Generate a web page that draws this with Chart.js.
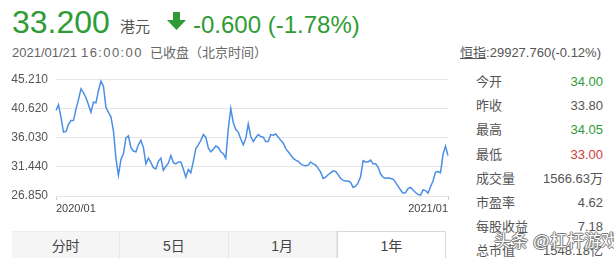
<!DOCTYPE html>
<html>
<head>
<meta charset="utf-8">
<script src="https://cdn.jsdelivr.net/npm/chart.js@4/dist/chart.umd.min.js"></script>
<style>
  html, body { margin: 0; padding: 0; background: #fff; }
  body { width: 614px; height: 258px; position: relative; overflow: hidden;
         font-family: "Liberation Sans", Arial, "Noto Sans CJK SC", sans-serif; color: #555; }
  .abs { position: absolute; white-space: nowrap; }
  .up { color: #2f9b34; }
  .down { color: #cc3d3d; }
  #price { left: 12px; top: 4px; font-size: 32px; line-height: 37px; color: #2f9b34; }
  #unit { left: 120px; top: 18px; font-size: 15px; line-height: 17px; color: #555; }
  #arrow { left: 167px; top: 12px; }
  #change { left: 193px; top: 11px; font-size: 24px; line-height: 27px; color: #2f9b34; }
  #date { left: 12px; top: 45px; font-size: 13px; line-height: 15px; color: #666; }
  #clock { left: 81px; top: 45px; font-size: 13px; line-height: 15px; color: #666; letter-spacing: 1.4px; }
  #closed { left: 150px; top: 45px; font-size: 13px; line-height: 15px; color: #666; }
  #hsi { right: 13px; top: 45px; font-size: 13px; line-height: 15px; color: #555; }
  #hsi u { text-decoration: underline; }
  #stats { left: 476px; top: 70px; width: 127px; }
  .row { display: flex; justify-content: space-between; height: 24.2px; line-height: 24px; font-size: 13px; }
  #tabs { left: 12px; top: 231px; width: 434px; height: 32px; background: #f5f5f5;
          display: flex; border-top: 1px solid #ececec; }
  .tab { flex: 1; text-align: center; font-size: 14px; line-height: 28px; color: #444;
         border-right: 1px solid #e6e6e6; }
  .tab.sel { background: #fff; border: 1px solid #d9d9d9; border-bottom: none; margin-top: -1px; }
  #mark { left: 494px; top: 232px; font-size: 17px; line-height: 20px; color: #fff;
          text-shadow: 1px 0 0 #777, -1px 0 0 #777, 0 1px 0 #777, 0 -1px 0 #777; }
  #chart { position: absolute; left: 0; top: 64px; }
</style>
</head>
<body>
<div class="abs" id="price">33.200</div>
<div class="abs" id="unit">港元</div>
<svg class="abs" id="arrow" width="19" height="18" viewBox="0 0 19 18">
  <polygon points="6,0 13,0 13,8 19,8 9.5,18 0,8 6,8" fill="#2f9b34"/>
</svg>
<div class="abs" id="change">-0.600 (-1.78%)</div>
<div class="abs" id="date">2021/01/21</div>
<div class="abs" id="clock">16:00:00</div>
<div class="abs" id="closed">已收盘（北京时间）</div>
<div class="abs" id="hsi"><u>恒指</u>:29927.760(-0.12%)</div>

<canvas id="chart" width="456" height="158"></canvas>

<div class="abs" id="stats"></div>

<div class="abs" id="tabs">
  <div class="tab">分时</div>
  <div class="tab">5日</div>
  <div class="tab">1月</div>
  <div class="tab sel">1年</div>
</div>

<div class="abs" id="mark">头条 @杠杆游戏</div>

<script>
// 1年 close prices (left to right)
const prices = [
  40.3, 41.2, 39.2, 36.9, 37.0, 38.1, 38.7, 38.7, 40.5, 42.0,
  43.7, 43.1, 42.3, 41.2, 40.0, 41.6, 41.5, 43.4, 44.9, 44.1,
  40.8, 40.0, 39.3, 37.1, 32.8, 30.1, 32.6, 33.5, 36.0, 36.3,
  34.5, 33.9, 33.8, 34.9, 35.6, 34.5, 31.9, 32.8, 32.1, 31.3,
  31.1, 32.3, 32.8, 30.9, 31.5, 32.0, 33.2, 32.1, 31.9, 32.2,
  32.2, 31.1, 29.8, 31.0, 30.5, 32.3, 34.3, 34.9, 35.6, 36.5,
  36.1, 34.4, 33.8, 34.2, 34.7, 34.5, 33.8, 33.5, 32.8, 37.4,
  40.6, 38.4, 37.3, 36.9, 35.8, 34.9, 35.9, 38.2, 36.2, 35.4,
  36.0, 36.5, 36.2, 36.1, 35.4, 35.4, 36.5, 36.4, 36.6, 36.1,
  35.6, 35.2, 34.3, 33.8, 33.3, 32.8, 32.5, 32.3, 31.9, 31.7,
  31.6, 31.7, 32.2, 31.9, 31.7, 31.2, 30.6, 29.6, 29.8, 30.2,
  30.5, 30.8, 30.7, 30.2, 29.6, 29.3, 29.2, 29.2, 29.0, 28.2,
  28.4, 28.9, 29.9, 32.4, 32.2, 32.2, 32.5, 31.9, 31.9, 31.4,
  30.3, 29.8, 29.6, 29.7, 29.6, 29.5, 29.0, 28.4, 27.8, 27.3,
  27.4, 28.0, 28.2, 27.8, 27.4, 27.1, 27.0, 27.8, 27.7, 27.3,
  28.3, 29.2, 30.6, 30.7, 30.5, 33.4, 34.7, 33.2
];
const tickLabels = ["2020/01", "2021/01"];
const yTicks = [26.85, 31.44, 36.03, 40.62, 45.21];

const statLabels = ["今开", "昨收", "最高", "最低", "成交量", "市盈率", "每股收益", "总市值"];
const statValues = ["34.00", "33.80", "34.05", "33.00", "1566.63万", "4.62", "7.18", "1548.18亿"];
const statTone   = ["up", "", "up", "down", "", "", "", ""];

/* painel da direita */
const stats = document.getElementById("stats");
statLabels.forEach((l, i) => {
  const row = document.createElement("div");
  row.className = "row";
  row.innerHTML = `<span>${l}</span><span class="${statTone[i]}">${statValues[i]}</span>`;
  stats.appendChild(row);
});

/* grafico */
const last = prices.length - 1;
new Chart(document.getElementById("chart"), {
  type: "line",
  data: {
    labels: prices.map((_, i) => i),
    datasets: [{
      data: prices,
      borderColor: "#4a8fe4",
      borderWidth: 1.5,
      pointRadius: 0,
      tension: 0,
      fill: false
    }]
  },
  options: {
    responsive: false,
    animation: false,
    layout: { padding: { top: 15, right: 8, left: 0, bottom: 0 } },
    plugins: { legend: { display: false }, tooltip: { enabled: false } },
    scales: {
      x: {
        type: "category",
        border: { display: false },
        grid: {
          drawOnChartArea: false,
          drawTicks: true,
          tickLength: 4,
          color: c => (c.index === 0 || c.index === last) ? "#cfcfcf" : "rgba(0,0,0,0)"
        },
        ticks: {
          autoSkip: false,
          maxRotation: 0,
          minRotation: 0,
          align: "inner",
          padding: 2,
          color: "#444",
          font: { family: "'Liberation Sans', Arial", size: 11 },
          callback: (v, i) => i === 0 ? tickLabels[0] : (i === last ? tickLabels[1] : "")
        },
        afterFit: s => { s.height = 26; }
      },
      y: {
        min: yTicks[0],
        max: yTicks[yTicks.length - 1],
        border: { display: false },
        grid: { color: "#e6e6e6", drawTicks: false, lineWidth: 1 },
        afterBuildTicks: s => { s.ticks = yTicks.map(v => ({ value: v })); },
        ticks: {
          padding: 8,
          color: "#555",
          font: { family: "'Liberation Sans', Arial", size: 12 },
          callback: v => Number(v).toFixed(3)
        },
        afterFit: s => { s.width = 56; }
      }
    }
  }
});
</script>
</body>
</html>
